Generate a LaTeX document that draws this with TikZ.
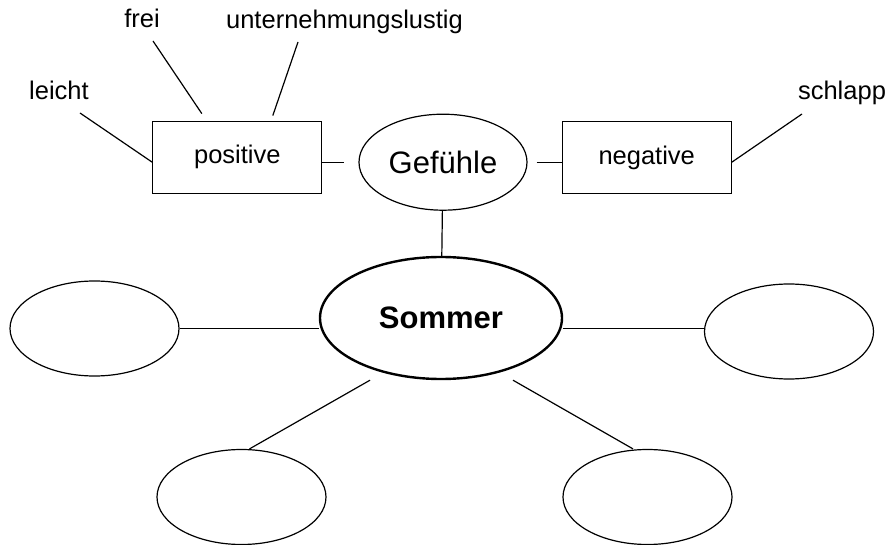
\documentclass[tikz,border=0pt]{standalone}
\usepackage{fontspec}
\setmainfont{Liberation Sans}
\usetikzlibrary{positioning,shapes.geometric}

\begin{document}
\begin{tikzpicture}[
 x=1pt,y=1pt,
 thinline/.style={line width=1.2pt},
 box/.style={draw,thinline,minimum width=169pt,minimum height=72pt,
   inner sep=0pt,font=\fontsize{25.5}{30}\selectfont},
 blank/.style={ellipse,draw,thinline,minimum width=169pt,minimum height=95pt},
 lbl/.style={inner sep=0pt,anchor=base,font=\fontsize{25.5}{30}\selectfont}
]
\useasboundingbox (0,0) rectangle (891,544);
\node[ellipse,draw,line width=2.4pt,minimum width=242pt,minimum height=122pt,
  inner sep=0pt,font=\fontsize{31}{36}\selectfont\bfseries] (sommer) at (441,226) {Sommer};
\node[ellipse,draw,thinline,minimum width=168pt,minimum height=96pt,inner sep=0pt,
  font=\fontsize{31}{36}\selectfont,above=45pt of sommer,xshift=2pt] (gefuehle) {Gefühle};
\node[box,left=36pt of gefuehle,yshift=5pt] (positive) {positive};
\node[box,right=34pt of gefuehle,yshift=4.5pt] (negative) {negative};
\node[blank] (leftel) at (94.5,215.5) {};
\node[blank] (rightel) at (789,212.5) {};
\node[blank] (botleft) at (241.5,47) {};
\node[blank] (botright) at (647.5,47) {};
\node[lbl] (frei) at (142,516) {frei};
\node[lbl] (unter) at (344.5,515) {unternehmungslustig};
\node[lbl] (leicht) at (59,444) {leicht};
\node[lbl] (schlapp) at (842,444) {schlapp};
\draw[thinline] ([xshift=11pt,yshift=-13pt]frei.base) -- ([xshift=-35.5pt,yshift=7pt]positive.north);
\draw[thinline] ([xshift=-46.5pt,yshift=-13pt]unter.base) -- ([xshift=35.5pt,yshift=5pt]positive.north);
\draw[thinline] ([xshift=21pt,yshift=-13pt]leicht.base) -- ([yshift=-5pt]positive.west);
\draw[thinline] ([xshift=-40pt,yshift=-14pt]schlapp.base) -- ([yshift=-4.5pt]negative.east);
\draw[thinline,shorten >=14pt] ([yshift=-5pt]positive.east) -- ([yshift=-5pt]positive.east -| gefuehle.west);
\draw[thinline,shorten <=9pt] ([yshift=-4.5pt]negative.west -| gefuehle.east) -- ([yshift=-4.5pt]negative.west);
\draw[thinline] (gefuehle) -- (sommer);
\draw[thinline] (leftel.east) -- (leftel.east -| sommer.west);
\draw[thinline] ([yshift=3pt]rightel.west -| sommer.east) -- ([yshift=3pt]rightel.west);
\draw[thinline] ([xshift=-71pt]sommer.south) -- ([xshift=8pt]botleft.north);
\draw[thinline] ([xshift=72pt]sommer.south) -- ([xshift=-14.5pt]botright.north);
\end{tikzpicture}
\end{document}
